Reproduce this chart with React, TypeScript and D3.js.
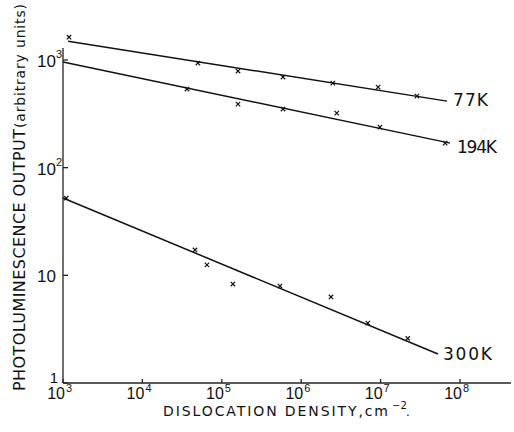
import React from "react";
import * as d3 from "d3";

const xTicks = [1e3, 1e4, 1e5, 1e6, 1e7, 1e8];
const xTickExp = ["3", "4", "5", "6", "7", "8"];
const yTicks = [1, 10, 100, 1000];
const yTickBase = ["1", "10", "10", "10"];
const yTickExp = ["", "", "2", "3"];

const series77 = [
  [1.19e3, 1630], [5.0e4, 936], [1.6e5, 789], [5.9e5, 694], [2.5e6, 610], [9.3e6, 560], [2.87e7, 462],
];
const series194 = [
  [3.65e4, 537], [1.6e5, 389], [5.9e5, 350], [2.8e6, 321], [9.8e6, 238], [6.5e7, 169],
];
const series300 = [
  [1.1e3, 52], [4.6e4, 17.2], [6.5e4, 12.5], [1.38e5, 8.3], [5.4e5, 7.96], [2.37e6, 6.3], [6.9e6, 3.6], [2.2e7, 2.6],
];
const fit77 = [[1.16e3, 1496], [6.85e7, 415]];
const fit194 = [[1e3, 957], [7.48e7, 169]];
const fit300 = [[1e3, 52.2], [5.28e7, 1.86]];
const labels = ["77K", "194K", "300K"];

export default function App() {
  const W = 514, H = 432;
  const x = d3.scaleLog().domain([1e3, 1e8]).range([63, 460]);
  const y = d3.scaleLog().domain([1, 1000]).range([383, 60]);
  const line = d3.line<number[]>().x((d) => x(d[0])).y((d) => y(d[1]));
  const font = "'DejaVu Sans', sans-serif";
  const numFont = "'Liberation Sans', Arial, sans-serif";
  const cross = (d: number[], i: number) => {
    const cx = x(d[0]), cy = y(d[1]), s = 2.2;
    return (
      <path key={i} d={`M${cx - s},${cy - s}L${cx + s},${cy + s}M${cx - s},${cy + s}L${cx + s},${cy - s}`} stroke="#111" strokeWidth={1.2} />
    );
  };
  const fits = [fit77, fit194, fit300];
  const all = [series77, series194, series300];
  return (
    <svg width={W} height={H} style={{ position: "absolute", left: 0, top: 0, background: "#fff" }}>
      <rect width={W} height={H} fill="#fff" />
      {/* axes */}
      <line x1={63} y1={383} x2={63} y2={48} stroke="#222" strokeWidth={1.3} />
      <line x1={63} y1={383} x2={511} y2={383} stroke="#222" strokeWidth={1.3} />
      {yTicks.map((t, i) => (
        <line key={i} x1={63} x2={68} y1={y(t)} y2={y(t)} stroke="#222" strokeWidth={1.3} />
      ))}
      {xTicks.map((t, i) => (
        <line key={i} x1={x(t)} x2={x(t)} y1={383} y2={379} stroke="#222" strokeWidth={1.3} />
      ))}
      {/* y tick labels */}
      <g fontFamily={numFont} fill="#111" fontSize={17}>
        {yTicks.map((t, i) => (
          <g key={i}>
            <text x={i === 0 ? 58 : 56} y={y(t) + (i === 0 ? 0 : 7)} textAnchor="end" fontSize={i === 0 ? 15 : 17}>{yTickBase[i]}</text>
            {yTickExp[i] && (
              <text x={56} y={y(t) - 2} fontSize={11}>{yTickExp[i]}</text>
            )}
          </g>
        ))}
      </g>
      {/* x tick labels */}
      <g fontFamily={numFont} fill="#111" fontSize={16}>
        {xTicks.map((t, i) => (
          <g key={i}>
            <text x={x(t) + 2} y={399} textAnchor="end">10</text>
            <text x={x(t) + 3} y={392} fontSize={11}>{xTickExp[i]}</text>
          </g>
        ))}
      </g>
      {/* fit lines */}
      {fits.map((f, i) => (
        <path key={i} d={line(f) || ""} fill="none" stroke="#111" strokeWidth={1.5} />
      ))}
      {all.map((s, j) => <g key={j}>{s.map(cross)}</g>)}
      {/* series labels */}
      <g fontFamily={font} fill="#111" fontSize={17}>
        <text x={453} y={106} textLength={35} lengthAdjust="spacing">{labels[0]}</text>
        <text x={457} y={153} textLength={40} lengthAdjust="spacing">{labels[1]}</text>
        <text x={443} y={360} textLength={49} lengthAdjust="spacing">{labels[2]}</text>
      </g>
      {/* axis titles */}
      <text x={163} y={416} fontFamily={font} fontSize={14} fill="#111" textLength={225} lengthAdjust="spacing">
        DISLOCATION DENSITY,cm
      </text>
      <text x={392} y={409} fontFamily={font} fontSize={10} fill="#111">−2</text>
      <text x={406} y={416} fontFamily={font} fontSize={12} fill="#111">.</text>
      <text transform="translate(25,391) rotate(-90)" fontFamily={font} fontSize={16} fill="#111" textLength={262} lengthAdjust="spacing">
        PHOTOLUMINESCENCE OUTPUT
      </text>
      <text transform="translate(25,128) rotate(-90)" fontFamily={font} fontSize={14} fill="#111" textLength={124} lengthAdjust="spacing">
        (arbitrary units)
      </text>
    </svg>
  );
}
